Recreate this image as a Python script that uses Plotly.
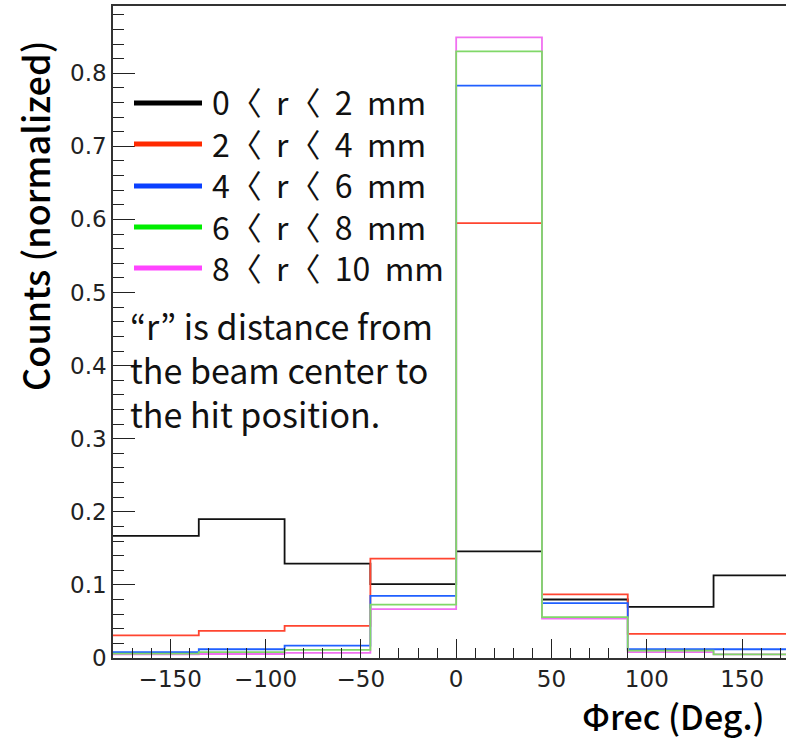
import plotly.graph_objects as go

# Phi_rec histogram, 8 bins of 45 degrees
bin_edges = [-180, -135, -90, -45, 0, 45, 90, 135, 180]

counts_r0_2 = [0.167, 0.190, 0.129, 0.101, 0.146, 0.080, 0.070, 0.113]
counts_r2_4 = [0.031, 0.037, 0.044, 0.136, 0.595, 0.087, 0.033, 0.033]
counts_r4_6 = [0.008, 0.012, 0.017, 0.085, 0.783, 0.075, 0.012, 0.012]
counts_r6_8 = [0.006, 0.008, 0.011, 0.073, 0.830, 0.056, 0.010, 0.005]
counts_r8_10 = [0.005, 0.0055, 0.007, 0.067, 0.849, 0.054, 0.008, 0.005]

NB = "\u00a0"
legend_labels = [f"0〈{NB}{NB}r〈{NB}{NB}2{NB}{NB}mm", f"2〈{NB}{NB}r〈{NB}{NB}4{NB}{NB}mm",
                 f"4〈{NB}{NB}r〈{NB}{NB}6{NB}{NB}mm", f"6〈{NB}{NB}r〈{NB}{NB}8{NB}{NB}mm",
                 f"8〈{NB}{NB}r〈{NB}{NB}10{NB}{NB}mm"]
note_lines = ["“r” is distance from", "the beam center to", "the hit position."]

x_tick_vals = [-150, -100, -50, 0, 50, 100, 150]
y_tick_vals = [0, 0.1, 0.2, 0.3, 0.4, 0.5, 0.6, 0.7, 0.8]
y_tick_text = ["0", "0.1", "0.2", "0.3", "0.4", "0.5", "0.6", "0.7", "0.8"]

series = [
    (counts_r0_2, "#111111", "#000000"),
    (counts_r2_4, "#ff4530", "#ff2a00"),
    (counts_r4_6, "#2060ff", "#0a40ff"),
    (counts_r8_10, "#f070f0", "#ff44ff"),
    (counts_r6_8, "#80d868", "#00ee00"),
]
legend_order = [0, 1, 2, 4, 3]  # legend rows by r range

W, H = 786, 740
L, T, B = 113, 6, 82
PW, PH = W - L, H - T - B


def px(x):
    return (x - L) / PW


def py(y):
    return (H - B - y) / PH


fig = go.Figure()
for vals, col, _ in series:
    fig.add_trace(go.Scatter(
        x=bin_edges, y=vals + [vals[-1]], mode="lines",
        line=dict(color=col, width=1.8, shape="hv"),
        showlegend=False, hoverinfo="skip"))

# hand-drawn legend: swatches plus one multi-line label block
row_y = [103, 144, 186, 227, 268]
for k, idx in enumerate(legend_order):
    leg_col = series[idx][2]
    fig.add_shape(type="line", xref="paper", yref="paper",
                  x0=px(134), x1=px(202), y0=py(row_y[k]), y1=py(row_y[k]),
                  line=dict(color=leg_col, width=5))
fig.add_annotation(text="<br>".join(legend_labels), xref="paper", yref="paper",
                   x=px(210), y=py(184), xanchor="left", yanchor="middle",
                   align="left", showarrow=False,
                   font=dict(family="Noto Sans CJK KR", size=32, color="#111111"))

# explanatory note
fig.add_annotation(text="<br>".join(note_lines), xref="paper", yref="paper",
                   x=px(128), y=py(369), xanchor="left", yanchor="middle",
                   align="left", showarrow=False,
                   font=dict(family="Noto Sans CJK KR", size=34, color="#111111"))

# axis titles
fig.add_annotation(text="Counts (normalized)", xref="paper", yref="paper",
                   x=px(34), y=py(216), textangle=-90, showarrow=False,
                   xanchor="center", yanchor="middle",
                   font=dict(family="Noto Sans CJK KR", size=36, weight=500,
                             color="#000000"))
fig.add_annotation(text="Φrec (Deg.)", xref="paper", yref="paper",
                   x=px(767), y=py(715), showarrow=False,
                   xanchor="right", yanchor="middle",
                   font=dict(family="Noto Sans CJK KR", size=34, weight=500,
                             color="#000000"))

axis_font = dict(family="DejaVu Sans", size=23, color="#222222")
fig.update_xaxes(range=[-180, 173], tickvals=x_tick_vals,
                 ticks="inside", ticklen=19, tickwidth=1.3, tickcolor="#222222",
                 minor=dict(dtick=10, ticks="inside", ticklen=10,
                            tickwidth=1.3, tickcolor="#222222", showgrid=False),
                 showline=True, linecolor="#333333", linewidth=1.5, mirror=True,
                 showgrid=False, zeroline=False, tickfont=axis_font,
                 ticklabelstandoff=0)
fig.update_yaxes(range=[0, 0.892], tickvals=y_tick_vals, ticktext=y_tick_text,
                 ticks="inside", ticklen=22, tickwidth=1.3, tickcolor="#222222",
                 minor=dict(dtick=0.02, ticks="inside", ticklen=11,
                            tickwidth=1.3, tickcolor="#222222", showgrid=False),
                 showline=True, linecolor="#333333", linewidth=1.5,
                 showgrid=False, zeroline=False, tickfont=axis_font,
                 ticklabelstandoff=0)
fig.update_layout(width=W, height=H, margin=dict(l=L, r=0, t=T, b=B),
                  plot_bgcolor="white", paper_bgcolor="white")

fig.write_html("out.html")
